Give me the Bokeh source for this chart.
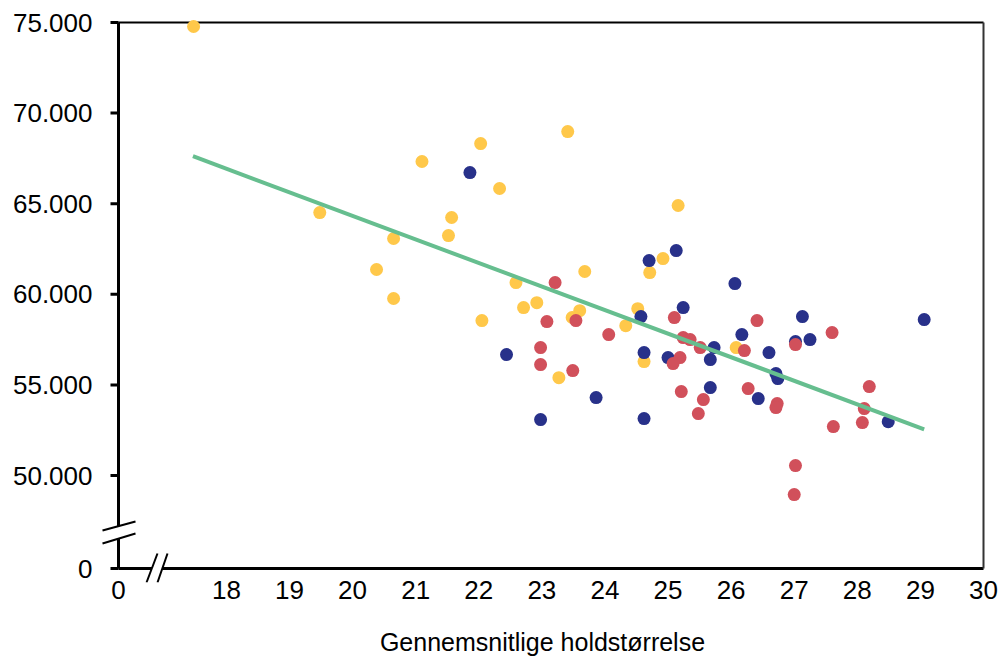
from bokeh.plotting import figure
from bokeh.models import Range1d, FixedTicker, PolyAnnotation, Arrow
from bokeh.embed import file_html
from bokeh.resources import INLINE

# ---- data ----
yellow_x = [17.48, 19.48, 20.38, 20.65, 20.65, 21.10, 21.57, 21.52, 22.03, 22.05, 22.33, 22.59, 22.71,
            22.92, 23.27, 23.41, 23.48, 23.60, 23.68, 24.33, 24.52, 24.62, 24.71, 24.92, 25.16, 26.08]
yellow_y = [74780, 64510, 61370, 63080, 59770, 67330, 64240, 63240, 68320, 58550, 65840, 60650, 59270,
            59540, 55400, 68980, 58720, 59100, 61260, 58270, 59210, 56290, 61200, 61970, 64900, 57060]

navy_x = [21.86, 22.44, 22.98, 23.86, 24.57, 24.70, 25.13, 24.62, 24.62, 25.00, 25.24, 25.73, 25.67,
          25.67, 26.06, 26.17, 26.60, 26.43, 26.71, 26.74, 27.02, 27.13, 27.25, 28.49, 29.06]
navy_y = [66720, 56674, 53087, 54300, 58771, 61862, 62414, 56784, 53142, 56508, 59268, 57060, 56398,
          54852, 60594, 57778, 56785, 54245, 55625, 55350, 57392, 58771, 57502, 52975, 58605]

red_x = [23.21, 23.08, 23.54, 22.98, 22.98, 23.49, 24.06, 25.10, 25.24, 25.35, 25.51, 25.19, 25.08,
         25.21, 25.56, 25.48, 26.21, 26.27, 26.41, 26.73, 26.71, 27.02, 27.60, 28.19, 28.11, 28.08,
         27.62, 27.02, 27.00]
red_y = [60648, 58496, 58550, 57060, 56122, 55790, 57778, 58716, 57613, 57502, 57060, 56508, 56177,
         54632, 54190, 53417, 56895, 54797, 58550, 53969, 53748, 57226, 57889, 54907, 53693, 52920,
         52700, 50547, 48947]

trend_x = [17.47, 29.06]
trend_y = [67620, 52550]

x_ticks = [16.29, 18, 19, 20, 21, 22, 23, 24, 25, 26, 27, 28, 29, 30]
x_tick_labels = ["0", "18", "19", "20", "21", "22", "23", "24", "25", "26", "27", "28", "29", "30"]
y_ticks = [44870, 50000, 55000, 60000, 65000, 70000, 75000]
y_tick_labels = ["0", "50.000", "55.000", "60.000", "65.000", "70.000", "75.000"]

x_label = "Gennemsnitlige holdstørrelse"

# ---- style ----
YELLOW = "#FFC84A"
NAVY = "#28318A"
RED = "#D1505B"
GREEN = "#66BE8F"
FONT = "Liberation Sans"
FS = "26px"

X0, X1 = x_ticks[0], x_ticks[-1]
Y0, Y1 = y_ticks[0], y_ticks[-1]
W, H = 1000, 658
# plot area (axis box) in canvas pixels
AL, AT, AR, AB = 118, 22, 983, 568
# drawing frame slightly larger than the axis box, so the axis-break marks fit
FL, FT, FR, FB = 98, 19, 986, 582
KX = (AR - AL) / (X1 - X0)
KY = (AB - AT) / (Y1 - Y0)
x_range = Range1d(X0 - (AL - FL) / KX, X1 + (FR - AR) / KX)
y_range = Range1d(Y0 - (FB - AB) / KY, Y1 + (AT - FT) / KY)

p = figure(width=W, height=H, output_backend="svg", toolbar_location=None,
           x_range=x_range, y_range=y_range,
           min_border_left=FL, min_border_top=FT, min_border_right=W - FR,
           min_border_bottom=H - FB, x_axis_label=x_label)
p.outline_line_color = None
p.grid.visible = False
p.background_fill_color = "white"
p.border_fill_color = "white"

xa = p.xaxis[0]
xa.ticker = FixedTicker(ticks=x_ticks)
xa.major_label_overrides = {t: l for t, l in zip(x_ticks, x_tick_labels)}
xa.major_tick_out = 0
xa.major_tick_in = 0
xa.minor_tick_out = 0
xa.minor_tick_in = 0
xa.axis_line_color = None
xa.major_label_standoff = -2
xa.major_label_text_font = FONT
xa.major_label_text_font_size = FS
xa.major_label_text_color = "black"
xa.axis_label_text_font = FONT
xa.axis_label_text_font_size = "25px"
xa.axis_label_text_font_style = "normal"
xa.axis_label_text_color = "black"
xa.axis_label_standoff = 26

ya = p.yaxis[0]
ya.ticker = FixedTicker(ticks=y_ticks)
ya.major_label_overrides = {t: l for t, l in zip(y_ticks, y_tick_labels)}
ya.major_tick_out = 0
ya.major_tick_in = 0
ya.minor_tick_out = 0
ya.minor_tick_in = 0
ya.axis_line_color = None
ya.major_label_standoff = 6
ya.major_label_text_font = FONT
ya.major_label_text_font_size = FS
ya.major_label_text_color = "black"

# box lines (bottom/top, right, left)
p.segment(x0=[X0, X0], y0=[Y0, Y1], x1=[X1, X1], y1=[Y0, Y1], line_color="black", line_width=[3, 2])
p.segment(x0=[X1], y0=[Y0], x1=[X1], y1=[Y1], line_color="#333333", line_width=2)
p.segment(x0=[X0], y0=[Y0], x1=[X0], y1=[Y1], line_color="black", line_width=3)

# y tick marks: 8 px outward from the axis box, at the tick values
for t in y_ticks:
    ty = AT + (Y1 - t) * KY
    p.add_layout(Arrow(end=None, x_start=AL - 8, y_start=ty, x_end=AL, y_end=ty,
                       start_units="canvas", end_units="canvas",
                       line_color="black", line_width=3))

# data
p.scatter(yellow_x, yellow_y, size=13, fill_color=YELLOW, line_color=None)
p.scatter(navy_x, navy_y, size=13, fill_color=NAVY, line_color=None)
p.scatter(red_x, red_y, size=13, fill_color=RED, line_color=None)
p.line(trend_x, trend_y, line_color=GREEN, line_width=4)

# axis-break marks (decoration), in canvas pixels
y_break_gap = ([100, 137, 137, 100], [530.5, 521, 533, 542.5])
y_break_slashes = [(102, 530, 135, 521), (102, 543, 135, 533)]
x_break_gap = ([146, 157, 167, 157], [582, 553, 553, 582])
x_break_slashes = [(146, 582, 157, 553), (157, 582, 167, 553)]

for gap, slashes in ((y_break_gap, y_break_slashes), (x_break_gap, x_break_slashes)):
    p.add_layout(PolyAnnotation(xs=gap[0], ys=gap[1], xs_units="canvas", ys_units="canvas",
                                fill_color="white", fill_alpha=1, line_color=None,
                                level="overlay"))
    for (a, b, c, d) in slashes:
        p.add_layout(Arrow(end=None, x_start=a, y_start=b, x_end=c, y_end=d,
                           start_units="canvas", end_units="canvas",
                           line_color="black", line_width=2, level="overlay"))

open("out.html", "w").write(file_html(p, INLINE))
